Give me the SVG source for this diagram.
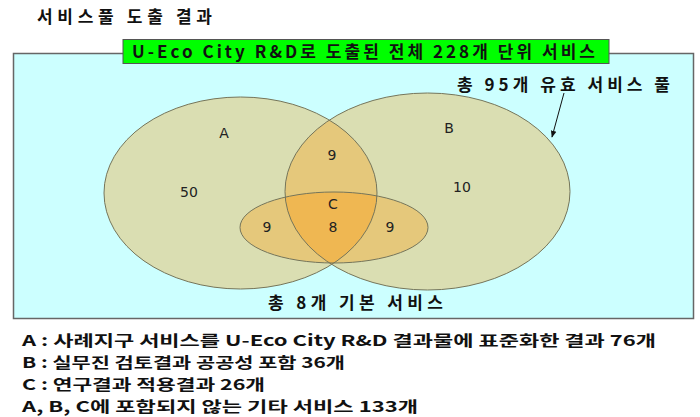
<svg xmlns="http://www.w3.org/2000/svg" width="700" height="417" viewBox="0 0 700 417">
<style>
.kb{font-family:"Noto Sans CJK KR","Noto Sans",sans-serif;font-weight:bold;fill:#111}
.num{font-family:"DejaVu Sans","Liberation Sans",sans-serif;font-size:14px;fill:#222;text-anchor:middle}
.ol{fill:none;stroke:#75755a;stroke-width:1}
</style>
<defs>
<marker id="ah" viewBox="0 0 10 10" refX="9" refY="5" markerWidth="7" markerHeight="7" orient="auto">
<path d="M0,1 L10,5 L0,9 z" fill="#111"/>
</marker>
<clipPath id="clipA"><ellipse cx="240.5" cy="193" rx="136.5" ry="96"/></clipPath>
<clipPath id="clipB"><ellipse cx="427.5" cy="191.5" rx="142.5" ry="98.5"/></clipPath>
</defs>
<rect width="700" height="417" fill="#ffffff"/>
<text class="kb" x="37" y="23" font-size="17" textLength="175" lengthAdjust="spacing">서비스풀 도출 결과</text>
<g id="pool">
<rect x="13.5" y="53.5" width="680" height="265" fill="#ccffff" stroke="#666" stroke-width="1.5"/>
</g>
<g id="total">
<rect x="123" y="39.5" width="486" height="24" fill="#00ff00" stroke="#555" stroke-width="1"/>
<text class="kb" x="132" y="57.5" font-size="17" textLength="463" lengthAdjust="spacing">U-Eco City R&amp;D로 도출된 전체 228개 단위 서비스</text>
</g>
<g id="A">
<ellipse cx="240.5" cy="193" rx="136.5" ry="96" fill="#dadeb2"/>
</g>
<g id="B">
<ellipse cx="427.5" cy="191.5" rx="142.5" ry="98.5" fill="#dadeb2"/>
<g clip-path="url(#clipA)"><ellipse cx="427.5" cy="191.5" rx="142.5" ry="98.5" fill="#e5c87b"/></g>
</g>
<g id="C">
<ellipse cx="334" cy="227.5" rx="94" ry="35.5" fill="#e5c87b"/>
<g clip-path="url(#clipA)"><g clip-path="url(#clipB)"><ellipse cx="334" cy="227.5" rx="94" ry="35.5" fill="#efb752"/></g></g>
</g>
<g id="outlines">
<ellipse class="ol" cx="240.5" cy="193" rx="136.5" ry="96"/>
<ellipse class="ol" cx="427.5" cy="191.5" rx="142.5" ry="98.5"/>
<ellipse class="ol" cx="334" cy="227.5" rx="94" ry="35.5"/>
</g>
<g id="labels">
<text class="num" x="224" y="138">A</text>
<text class="num" x="449" y="133">B</text>
<text class="num" x="189" y="197">50</text>
<text class="num" x="462" y="192">10</text>
<text class="num" x="332" y="160">9</text>
<text class="num" x="333" y="209">C</text>
<text class="num" x="333" y="232">8</text>
<text class="num" x="267" y="232">9</text>
<text class="num" x="390" y="232">9</text>
</g>
<g id="connectors">
<line x1="564" y1="93" x2="552" y2="137" stroke="#111" stroke-width="1" marker-end="url(#ah)"/>
</g>
<g id="pool-label">
<text class="kb" x="457" y="91" font-size="17" textLength="213" lengthAdjust="spacing">총 95개 유효 서비스 풀</text>
</g>
<g id="basic-label">
<text class="kb" x="268" y="309" font-size="17" textLength="175" lengthAdjust="spacing">총 8개 기본 서비스</text>
</g>
<g id="legend">
<text class="kb" x="22" y="346" font-size="15" textLength="634" lengthAdjust="spacingAndGlyphs">A : 사례지구 서비스를 U-Eco City R&amp;D 결과물에 표준화한 결과 76개</text>
<text class="kb" x="22" y="368" font-size="15" textLength="323" lengthAdjust="spacingAndGlyphs">B : 실무진 검토결과 공공성 포함 36개</text>
<text class="kb" x="22" y="390" font-size="15" textLength="243" lengthAdjust="spacingAndGlyphs">C : 연구결과 적용결과 26개</text>
<text class="kb" x="22" y="412" font-size="15" textLength="396" lengthAdjust="spacingAndGlyphs">A, B, C에 포함되지 않는 기타 서비스 133개</text>
</g>
</svg>
